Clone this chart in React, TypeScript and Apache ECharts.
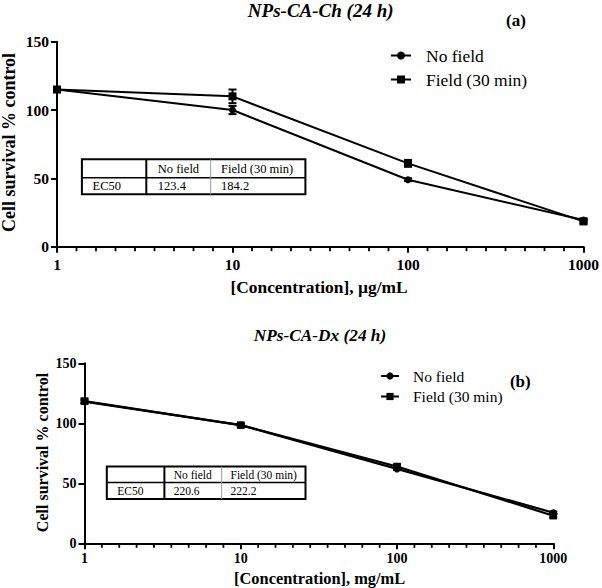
import React, { useEffect, useRef } from "react";
import * as echarts from "echarts";

// ---- data ----
const concentrations = [1, 10, 100, 1000];
const xTickLabels = ["1", "10", "100", "1000"];
const yTickValues = [0, 50, 100, 150];
const seriesNames = ["No field", "Field (30 min)"];
const minorDivisionsPerDecade = 9;

const titleA = "NPs-CA-Ch (24 h)";
const panelA = "(a)";
const xNameA = "[Concentration], µg/mL";
const noFieldA = [115, 100, 49, 19.5];
const noFieldAErr = [1, 3, 1, 1];
const fieldA = [115, 110, 61, 18.5];
const fieldAErr = [1, 5, 2.5, 1.5];
const tableHeader = ["", "No field", "Field (30 min)"];
const tableRowA = ["EC50", "123.4", "184.2"];

const titleB = "NPs-CA-Dx (24 h)";
const panelB = "(b)";
const xNameB = "[Concentration], mg/mL";
const noFieldB = [118, 98.5, 62, 25.5];
const noFieldBErr = [1, 1, 1, 1];
const fieldB = [118.5, 98.5, 64, 23];
const fieldBErr = [2, 1.5, 1.5, 1.5];
const tableRowB = ["EC50", "220.6", "222.2"];

const yName = "Cell survival % control";

const FONT = "'Liberation Serif', 'Times New Roman', serif";

function errorSeries(xi: number, vals: number[], errs: number[]) {
  return {
    type: "custom",
    xAxisIndex: xi,
    yAxisIndex: xi,
    z: 1,
    silent: true,
    encode: { x: 0, y: 1 },
    data: concentrations.map((c, i) => [c, vals[i], errs[i]]),
    renderItem: (_p: any, api: any) => {
      const x = api.value(0);
      const y = api.value(1);
      const e = api.value(2);
      const t = api.coord([x, y + e]);
      const b = api.coord([x, y - e]);
      const hw = 4;
      const st = { stroke: "#000", lineWidth: 2 };
      return {
        type: "group",
        children: [
          { type: "line", shape: { x1: t[0], y1: t[1], x2: b[0], y2: b[1] }, style: st },
          { type: "line", shape: { x1: t[0] - hw, y1: t[1], x2: t[0] + hw, y2: t[1] }, style: st },
          { type: "line", shape: { x1: b[0] - hw, y1: b[1], x2: b[0] + hw, y2: b[1] }, style: st },
        ],
      };
    },
  };
}

// evenly spaced minor ticks between decades, placed with the axis' own coordinates
function minorTickSeries(xi: number, len: number) {
  return {
    type: "custom",
    xAxisIndex: xi,
    yAxisIndex: xi,
    z: 3,
    silent: true,
    clip: false,
    encode: { x: 0, y: 1 },
    data: concentrations.slice(0, -1).map((c, i) => [c, yTickValues[0], concentrations[i + 1]]),
    renderItem: (_p: any, api: any) => {
      const a = api.coord([api.value(0), api.value(1)]);
      const b = api.coord([api.value(2), api.value(1)]);
      const children: any[] = [];
      for (let j = 1; j < minorDivisionsPerDecade; j++) {
        const x = a[0] + ((b[0] - a[0]) * j) / minorDivisionsPerDecade;
        children.push({
          type: "line",
          shape: { x1: x, y1: a[1], x2: x, y2: a[1] + len },
          style: { stroke: "#000", lineWidth: 1.8 },
        });
      }
      return { type: "group", children };
    },
  };
}

function lineSeries(xi: number, name: string, vals: number[], symbol: string, size: number, lw: number) {
  return {
    type: "line",
    name,
    xAxisIndex: xi,
    yAxisIndex: xi,
    z: 2,
    data: concentrations.map((c, i) => [c, vals[i]]),
    symbol,
    symbolSize: size,
    showSymbol: true,
    itemStyle: { color: "#000" },
    lineStyle: { color: "#000", width: lw },
  };
}

function xAxisCfg(gi: number, fs: number, margin: number) {
  return {
    type: "log",
    logBase: 10,
    gridIndex: gi,
    position: "bottom",
    min: 1,
    max: 1000,
    axisLine: { lineStyle: { color: "#000", width: 2 } },
    axisTick: { show: true, length: 6, lineStyle: { color: "#000", width: 2 } },
    splitLine: { show: false },
    axisLabel: {
      color: "#000",
      fontFamily: FONT,
      fontWeight: "bold",
      fontSize: fs,
      margin,
      formatter: (v: number) => {
        const idx = concentrations.indexOf(Math.round(v));
        return idx >= 0 ? xTickLabels[idx] : "";
      },
    },
  };
}

function yAxisCfg(gi: number, fs: number) {
  return {
    type: "value",
    gridIndex: gi,
    min: yTickValues[0],
    max: yTickValues[yTickValues.length - 1],
    interval: 50,
    axisLine: { show: true, lineStyle: { color: "#000", width: 2 } },
    axisTick: { show: true, length: 6, lineStyle: { color: "#000", width: 2 } },
    splitLine: { show: false },
    axisLabel: { color: "#000", fontFamily: FONT, fontWeight: "bold", fontSize: fs, margin: 8 },
  };
}

function tableGraphics(
  xs: number[],
  ys: number[],
  rows: string[][],
  fs: number,
  pads: number[]
) {
  const els: any[] = [];
  const [x0, x1, x2, x3] = xs;
  const [y0, y1, y2] = ys;
  els.push({ type: "rect", shape: { x: x0, y: y0, width: x3 - x0, height: y2 - y0 }, style: { fill: "#fff", stroke: "#000", lineWidth: 2 }, z: 10 });
  els.push({ type: "line", shape: { x1: x0, y1: y1, x2: x3, y2: y1 }, style: { stroke: "#000", lineWidth: 1.5 }, z: 11 });
  els.push({ type: "line", shape: { x1: x1, y1: y0, x2: x1, y2: y2 }, style: { stroke: "#000", lineWidth: 2 }, z: 11 });
  els.push({ type: "line", shape: { x1: x2, y1: y0, x2: x2, y2: y2 }, style: { stroke: "#999", lineWidth: 1 }, z: 11 });
  const colX = [x0, x1, x2];
  const rowY = [(y0 + y1) / 2, (y1 + y2) / 2];
  rows.forEach((row, r) => {
    row.forEach((txt, c) => {
      if (!txt) return;
      els.push({
        type: "text",
        x: colX[c] + pads[c],
        y: rowY[r],
        z: 12,
        style: { text: txt, fontFamily: FONT, fontSize: fs, fill: "#000", align: "left", verticalAlign: "middle" },
      });
    });
  });
  return els;
}

export default function App() {
  const ref = useRef<HTMLDivElement>(null);
  useEffect(() => {
    if (!ref.current) return;
    const chart = echarts.init(ref.current, undefined, { renderer: "svg" });
    const option: any = {
      animation: false,
      backgroundColor: "#fff",
      grid: [
        { left: 57, top: 41.7, width: 527, height: 205 },
        { left: 84.5, top: 363.3, width: 468.8, height: 180 },
      ],
      xAxis: [xAxisCfg(0, 15.5, 10), xAxisCfg(1, 14, 8.5)],
      yAxis: [yAxisCfg(0, 15.5), yAxisCfg(1, 14)],
      legend: [
        {
          data: seriesNames,
          orient: "vertical",
          left: 390,
          top: 46.5,
          padding: 0,
          itemGap: 6,
          itemWidth: 20,
          itemHeight: 10,
          selectedMode: false,
          textStyle: { fontFamily: FONT, fontSize: 17.5, color: "#000", padding: [0, 0, 0, 10] },
        },
        {
          data: seriesNames,
          orient: "vertical",
          left: 380,
          top: 368,
          padding: 0,
          itemGap: 4.5,
          itemWidth: 18,
          itemHeight: 9,
          selectedMode: false,
          textStyle: { fontFamily: FONT, fontSize: 15.5, color: "#000", padding: [0, 0, 0, 9] },
        },
      ],
      series: [
        minorTickSeries(0, 4.5),
        errorSeries(0, noFieldA, noFieldAErr),
        errorSeries(0, fieldA, fieldAErr),
        lineSeries(0, seriesNames[0], noFieldA, "circle", 7, 2),
        lineSeries(0, seriesNames[1], fieldA, "rect", 8, 2),
        minorTickSeries(1, 4.5),
        errorSeries(1, noFieldB, noFieldBErr),
        errorSeries(1, fieldB, fieldBErr),
        lineSeries(1, seriesNames[0], noFieldB, "circle", 7, 2.2),
        lineSeries(1, seriesNames[1], fieldB, "rect", 7.5, 2.2),
      ],
      graphic: [
        { type: "text", x: 320.7, y: 10, style: { text: titleA, fontFamily: FONT, fontSize: 19, fontWeight: "bold", fontStyle: "italic", fill: "#000", align: "center", verticalAlign: "middle" } },
        { type: "text", x: 516, y: 20.7, style: { text: panelA, fontFamily: FONT, fontSize: 17, fontWeight: "bold", fill: "#000", align: "center", verticalAlign: "middle" } },
        { type: "text", x: 8.9, y: 142.5, rotation: Math.PI / 2, style: { text: yName, fontFamily: FONT, fontSize: 18, fontWeight: "bold", fill: "#000", align: "center", verticalAlign: "middle" } },
        { type: "text", x: 319, y: 287, style: { text: xNameA, fontFamily: FONT, fontSize: 17.4, fontWeight: "bold", fill: "#000", align: "center", verticalAlign: "middle" } },
        ...tableGraphics([81.9, 146.3, 210.7, 305.4], [159.3, 177.7, 194.3], [tableHeader, tableRowA], 12.5, [10.7, 11.5, 10.3]),

        { type: "text", x: 320, y: 335, style: { text: titleB, fontFamily: FONT, fontSize: 17.3, fontWeight: "bold", fontStyle: "italic", fill: "#000", align: "center", verticalAlign: "middle" } },
        { type: "text", x: 520.3, y: 381.7, style: { text: panelB, fontFamily: FONT, fontSize: 17, fontWeight: "bold", fill: "#000", align: "center", verticalAlign: "middle" } },
        { type: "text", x: 42, y: 452.5, rotation: Math.PI / 2, style: { text: yName, fontFamily: FONT, fontSize: 16, fontWeight: "bold", fill: "#000", align: "center", verticalAlign: "middle" } },
        { type: "text", x: 319.6, y: 578, style: { text: xNameB, fontFamily: FONT, fontSize: 16.4, fontWeight: "bold", fill: "#000", align: "center", verticalAlign: "middle" } },
        ...tableGraphics([106.8, 164.4, 221.7, 305.5], [466.6, 482.6, 499], [tableHeader, tableRowB], 11.5, [10.4, 9.3, 8.8]),
      ],
    };
    chart.setOption(option);
    return () => chart.dispose();
  }, []);
  return (
    <div
      ref={ref}
      style={{ position: "absolute", left: 0, top: 0, width: 602, height: 588, background: "#fff" }}
    />
  );
}
